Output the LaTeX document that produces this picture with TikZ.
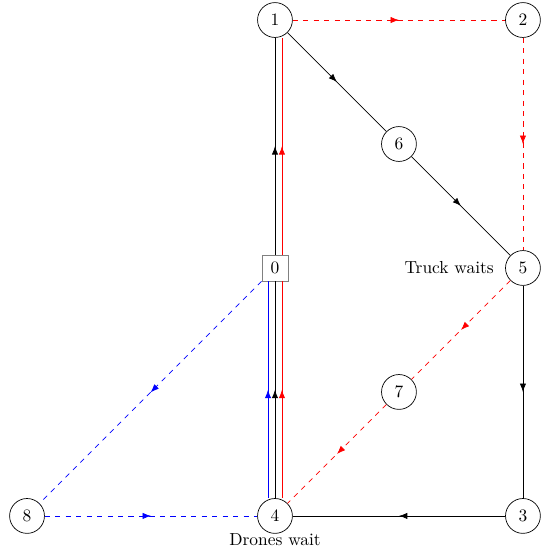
\documentclass[tikz,border=0pt]{standalone}
\usetikzlibrary{arrows.meta,decorations.markings}

\begin{document}
\begin{tikzpicture}[
    stop/.style={circle,draw,minimum size=20pt,inner sep=0pt},
    depot/.style={rectangle,draw=gray,minimum size=15pt,inner sep=0pt},
    midarrow/.style={postaction={decorate},
        decoration={markings,mark=at position 0.5 with {\arrow{Latex}}}}]
    \useasboundingbox (-5.545,-5.727) rectangle (5.384,5.404);
    \node[depot] (v0) at (0,0) {0};
    \node[stop] (v1) at (0,5) {1};
    \node[stop] (v2) at (5,5) {2};
    \node[stop] (v6) at (2.5,2.5) {6};
    \node[stop,label={[label distance=3pt]left:Truck waits}] (v5) at (5,0) {5};
    \node[stop] (v7) at (2.5,-2.5) {7};
    \node[stop] (v8) at (-5,-5) {8};
    \node[stop,label={[inner sep=0pt]below:Drones wait}] (v4) at (0,-5) {4};
    \node[stop] (v3) at (5,-5) {3};
    % truck
    \draw[midarrow] (v4) -- (v0);
    \draw[midarrow] (v0) -- (v1);
    \draw[midarrow] (v1) -- (v6);
    \draw[midarrow] (v6) -- (v5);
    \draw[midarrow] (v5) -- (v3);
    \draw[midarrow] (v3) -- (v4);
    % red drone
    \draw[red,midarrow] ([xshift=4pt]v4.north) -- ([xshift=4pt]v0.south);
    \draw[red,midarrow] ([xshift=4pt]v0.north) -- ([xshift=4pt]v1.south);
    \draw[red,dashed,midarrow] (v1) -- (v2);
    \draw[red,dashed,midarrow] (v2) -- (v5);
    \draw[red,dashed,midarrow] (v5) -- (v7);
    \draw[red,dashed,midarrow] (v7) -- (v4);
    % blue drone
    \draw[blue,midarrow] ([xshift=-4pt]v4.north) -- ([xshift=-4pt]v0.south);
    \draw[blue,dashed,midarrow] (v0) -- (v8);
    \draw[blue,dashed,midarrow] (v8) -- (v4);
\end{tikzpicture}
\end{document}
